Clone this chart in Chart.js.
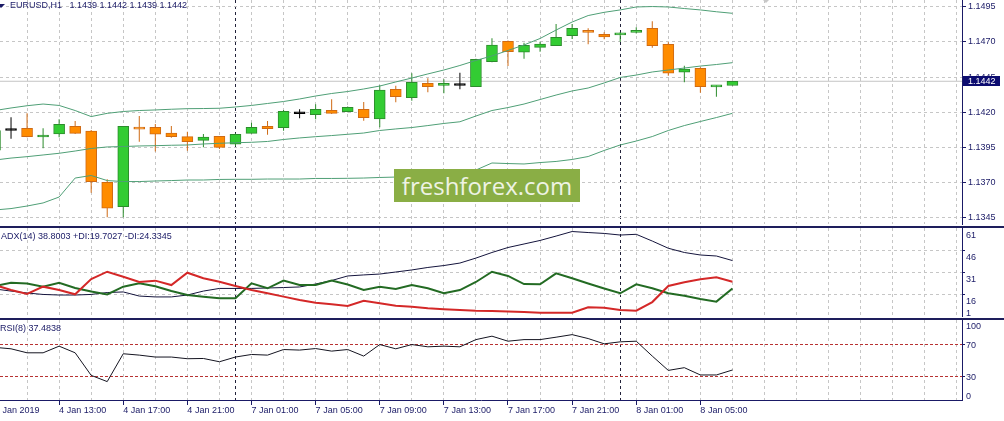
<!DOCTYPE html>
<html><head><meta charset="utf-8">
<script src="https://cdn.jsdelivr.net/npm/chart.js@4.4.1/dist/chart.umd.min.js"></script>
<style>
html,body{margin:0;padding:0;background:#fff;}
body{width:1004px;height:421px;overflow:hidden;position:relative;font-family:"Liberation Sans",Arial,sans-serif;}
.pane{position:absolute;left:0;width:1004px;}
canvas{display:block;}
.sep{position:absolute;left:0;width:1004px;height:2px;background:#1e1e5c;z-index:3;}
.lbl{position:absolute;font-size:9px;color:#1a1a66;white-space:pre;line-height:11px;z-index:4;}
#wm{position:absolute;left:394px;top:169px;width:186px;height:33px;background:#8aae45;color:#eef3e4;font-family:"Open Sans",sans-serif;font-size:24px;line-height:33px;text-align:center;z-index:4;}
</style></head><body>
<div class="pane" style="top:0;height:226px"><canvas id="c1" width="1004" height="226"></canvas></div>
<div class="pane" style="top:226px;height:92px"><canvas id="c2" width="1004" height="92"></canvas></div>
<div class="pane" style="top:318px;height:103px"><canvas id="c3" width="1004" height="103"></canvas></div>
<div class="sep" style="top:226px"></div>
<div class="sep" style="top:318px"></div>
<div style="position:absolute;left:-3px;top:4px;width:0;height:0;border-left:4px solid transparent;border-right:4px solid transparent;border-top:4px solid #1a1a66;z-index:4"></div>
<div style="position:absolute;left:763px;top:0px;width:0;height:0;border-left:3px solid transparent;border-right:3px solid transparent;border-top:3px solid #c8c8c8;z-index:4"></div>
<div class="lbl" id="t1" style="left:10px;top:0px"></div>
<div class="lbl" id="t2" style="left:1px;top:231px"></div>
<div class="lbl" id="t3" style="left:0px;top:323px"></div>
<div id="wm">freshforex.com</div>
<script>
// ---------- data ----------
const symbol = 'EURUSD,H1';
const times = [
 '2019-01-04 09:00','2019-01-04 10:00','2019-01-04 11:00','2019-01-04 12:00','2019-01-04 13:00','2019-01-04 14:00','2019-01-04 15:00','2019-01-04 16:00','2019-01-04 17:00','2019-01-04 18:00',
 '2019-01-04 19:00','2019-01-04 20:00','2019-01-04 21:00','2019-01-04 22:00','2019-01-04 23:00','2019-01-07 00:00','2019-01-07 01:00','2019-01-07 02:00','2019-01-07 03:00','2019-01-07 04:00',
 '2019-01-07 05:00','2019-01-07 06:00','2019-01-07 07:00','2019-01-07 08:00','2019-01-07 09:00','2019-01-07 10:00','2019-01-07 11:00','2019-01-07 12:00','2019-01-07 13:00','2019-01-07 14:00',
 '2019-01-07 15:00','2019-01-07 16:00','2019-01-07 17:00','2019-01-07 18:00','2019-01-07 19:00','2019-01-07 20:00','2019-01-07 21:00','2019-01-07 22:00','2019-01-07 23:00','2019-01-08 00:00',
 '2019-01-08 01:00','2019-01-08 02:00','2019-01-08 03:00','2019-01-08 04:00','2019-01-08 05:00','2019-01-08 06:00','2019-01-08 07:00'];
const xTickLabels = ['4 Jan 2019','4 Jan 13:00','4 Jan 17:00','4 Jan 21:00','7 Jan 01:00','7 Jan 05:00','7 Jan 09:00','7 Jan 13:00','7 Jan 17:00','7 Jan 21:00','8 Jan 01:00','8 Jan 05:00'];
const priceTicks = [1.1345,1.1370,1.1395,1.1420,1.1445,1.1470,1.1495];
const adxTicks = [61,46,31,16,1];
const rsiTicks = [100,70,30,0];
const rsiLevels = [70,30];

const open = [1.1393,1.1407,1.14086,1.14024,1.14045,1.1410,1.14066,1.13702,1.13528,1.1409,
 1.14093,1.14052,1.14026,1.1400,1.14029,1.13972,1.1405,1.1410,1.1409,1.14189,
 1.14182,1.14214,1.14204,1.14221,1.14152,1.14363,1.14303,1.14405,1.14391,1.1439,
 1.14381,1.14559,1.14704,1.14626,1.14661,1.14673,1.14744,1.14782,1.14754,1.1475,
 1.14768,1.14796,1.14683,1.14484,1.14512,1.1438,1.1439];
const high = [1.1409,1.14164,1.14192,1.14086,1.1415,1.14137,1.14073,1.13723,1.14102,1.14173,
 1.14116,1.14102,1.14061,1.14045,1.1403,1.1405,1.14125,1.14137,1.14215,1.14221,
 1.14256,1.14292,1.1424,1.14273,1.14391,1.14388,1.14477,1.14441,1.14434,1.14481,
 1.1458,1.14725,1.1471,1.14694,1.14701,1.14827,1.14827,1.14796,1.14768,1.14768,
 1.14804,1.14846,1.14697,1.14531,1.1452,1.14391,1.1442];
const low = [1.1391,1.14012,1.14022,1.13943,1.14022,1.14045,1.13628,1.13453,1.13453,1.1399,
 1.1392,1.14019,1.13926,1.1395,1.13938,1.1396,1.14048,1.1404,1.14069,1.14157,
 1.1415,1.14187,1.1420,1.1414,1.14093,1.1427,1.14282,1.14341,1.14334,1.14363,
 1.1438,1.14555,1.14528,1.1458,1.1463,1.1467,1.1472,1.14683,1.14718,1.14701,
 1.1476,1.14659,1.1446,1.14413,1.14339,1.1431,1.1439];
const close = [1.1407,1.1407,1.14026,1.14031,1.14114,1.1405,1.13706,1.13517,1.1410,1.1408,
 1.14043,1.14026,1.1399,1.14024,1.1395,1.14043,1.14093,1.14083,1.14206,1.14189,
 1.14221,1.14192,1.14235,1.14161,1.14358,1.1431,1.14413,1.14381,1.14405,1.1439,
 1.14576,1.14678,1.1463,1.14676,1.14685,1.14732,1.14796,1.14768,1.14735,1.14752,
 1.14782,1.14673,1.14477,1.14507,1.14381,1.14385,1.1442];
const bbUpper = [1.14212,1.1423,1.14246,1.14258,1.14248,1.14212,1.14169,1.14192,1.14205,1.14212,
 1.14216,1.14221,1.14225,1.14226,1.14228,1.14237,1.14248,1.14262,1.14276,1.14294,
 1.14315,1.14333,1.14347,1.14365,1.14386,1.14415,1.14443,1.14472,1.145,1.14532,
 1.14568,1.146,1.14639,1.14678,1.14724,1.14784,1.14841,1.14887,1.1491,1.14927,
 1.14948,1.14951,1.14948,1.14937,1.14927,1.14914,1.14903];
const bbMiddle = [1.1386,1.13874,1.13884,1.13896,1.13908,1.13924,1.13942,1.13953,1.13956,1.1396,
 1.13962,1.13965,1.13967,1.13974,1.13979,1.13983,1.13986,1.13992,1.14006,1.14017,
 1.14026,1.14034,1.14043,1.14052,1.1407,1.14081,1.14091,1.14105,1.1412,1.14132,
 1.14173,1.14212,1.14233,1.14258,1.1429,1.14322,1.14351,1.14372,1.14408,1.14447,
 1.14464,1.14486,1.145,1.14514,1.14528,1.14539,1.14552];
const bbLower = [1.13505,1.13515,1.13533,1.13555,1.13597,1.13732,1.1375,1.13714,1.13707,1.13707,
 1.13711,1.13714,1.13718,1.13718,1.13722,1.13723,1.13723,1.13725,1.13725,1.13725,
 1.13729,1.13729,1.1373,1.13732,1.13736,1.13739,1.13743,1.13746,1.1375,1.13754,
 1.13789,1.13839,1.13835,1.13832,1.13842,1.1385,1.13864,1.13885,1.13928,1.13967,
 1.13995,1.14027,1.1407,1.14105,1.14134,1.14162,1.14192];
const adx = [19.4,18.0,16.7,15.7,15.3,15.3,15.7,17.0,17.4,14.6,
 14.0,14.0,15.3,18.0,19.8,19.8,19.8,20.1,20.4,20.8,
 22.8,25.2,28.3,29.0,29.6,31.0,32.4,34.1,35.4,37.1,
 40.5,44.3,47.7,50.1,52.5,55.5,58.6,57.9,57.3,56.2,
 56.7,52.1,47.2,44.3,42.6,41.9,38.8003];
const plusDI = [21.5,23.7,23.2,21.0,23.7,20.1,17.7,15.7,21.0,23.3,
 21.3,18.0,15.3,14.2,13.1,13.1,23.3,19.9,25.1,22.1,
 22.1,25.2,22.5,18.7,21.0,19.4,22.1,19.9,16.5,18.7,
 24.2,31.2,28.3,22.8,22.6,30.1,26.7,23.2,19.8,16.5,
 22.6,19.9,16.5,14.8,12.6,10.8,19.7027];
const minusDI = [22.1,18.7,16.0,21.0,18.7,15.8,26.2,31.2,27.8,24.2,
 25.1,22.1,30.5,26.7,24.4,21.5,18.7,16.5,14.2,11.9,
 10.1,9.0,7.8,11.4,9.7,8.0,7.3,6.3,5.6,5.1,
 4.6,4.4,4.1,3.7,3.3,3.3,3.3,6.9,6.7,5.1,
 4.6,10.5,21.5,24.0,26.0,27.4,24.3345];
const rsi = [65.8,64.0,59.0,59.0,67.3,59.0,30.8,23.0,57.8,56.1,
 53.7,53.7,51.6,51.9,47.8,53.7,56.9,56.1,63.1,62.4,
 64.3,61.1,63.1,54.9,69.3,64.0,69.3,66.5,67.3,66.5,
 75.5,79.8,73.5,75.5,75.5,78.5,81.7,76.8,70.2,72.7,
 73.5,54.9,37.0,40.4,31.3,31.3,37.4838];

// ---------- layout / style constants ----------
const X_MIN = 0.312, X_MAX = 60.32;       // visible bar slots
const GRID_STEP = 2, LABEL_STEP = 4;
const Y_MIN = 1.134053, Y_MAX = 1.149976;
const NAVY = '#1a1a66', GRID = '#c6c6c6', SEP = '#22223a', CLEAR = 'rgba(0,0,0,0)';
const FONT = {family: "'Liberation Sans', Arial, sans-serif", size: 9};
const UP_FILL = '#33cc33', UP_EDGE = '#2c8c2c', DN_FILL = '#ff8c00', DN_EDGE = '#cf6a14', DOJI = '#000000';
const BAND = '#4f9f76';

Chart.defaults.font.family = FONT.family;
Chart.defaults.font.size = 9;

const n = times.length;
const last = n - 1;
const dayStarts = times.map((t, i) => (i > 0 && t.endsWith(' 00:00')) ? i : -1).filter(i => i >= 0);

function series(arr){ return arr.map((v, i) => ({x: i, y: v})); }
function labelFor(v){
  return (v % LABEL_STEP === 0 && v / LABEL_STEP < xTickLabels.length) ? xTickLabels[v / LABEL_STEP] : '';
}
function buildXTicks(s){
  const t = [];
  for (let v = 0; v <= X_MAX; v += GRID_STEP) t.push(v);
  dayStarts.forEach(v => { if (!t.includes(v)) t.push(v); });
  t.sort((a, b) => a - b);
  s.ticks = t.map(v => ({value: v}));
}
function xScale(showLabels, h){
  return {
    type: 'linear', min: X_MIN, max: X_MAX, offset: false,
    afterBuildTicks: buildXTicks,
    afterFit: s => { s.height = h; s.paddingLeft = 0; s.paddingRight = 0; },
    ticks: {display: showLabels, autoSkip: false, maxRotation: 0, minRotation: 0, align: 'start',
            padding: 0, color: NAVY, font: FONT, callback: v => labelFor(v)},
    grid: {offset: false, lineWidth: 1, drawTicks: showLabels, tickLength: 5, tickBorderDash: [],
           color: c => (c.tick && dayStarts.includes(c.tick.value)) ? SEP : GRID,
           tickColor: c => (c.tick && labelFor(c.tick.value)) ? NAVY : CLEAR},
    border: {display: showLabels, color: NAVY, width: 1, dash: [3, 3]}
  };
}
function yScale(o){
  return {
    position: 'right', min: o.min, max: o.max,
    afterBuildTicks: s => { s.ticks = o.ticks.map(v => ({value: v})); },
    afterFit: s => { s.width = 42; s.paddingTop = 0; s.paddingBottom = 0; },
    ticks: {autoSkip: false, color: NAVY, font: FONT, padding: o.pad, labelOffset: o.labelOffset || 0, callback: o.fmt},
    grid: {lineWidth: 1, drawTicks: true, tickLength: o.tl, tickBorderDash: [],
           color: c => c.tick ? o.gridColor(c.tick.value) : CLEAR,
           tickColor: c => c.tick ? o.tickColor(c.tick.value) : CLEAR},
    border: {display: true, color: NAVY, width: 1, dash: o.dash}
  };
}
const baseOpts = (padTop) => ({
  responsive: false, animation: false, events: [],
  layout: {padding: {top: padTop, left: 0, right: 0, bottom: 0}, autoPadding: false},
  plugins: {legend: {display: false}, tooltip: {enabled: false}},
  elements: {point: {radius: 0, hitRadius: 0}, line: {tension: 0}}
});

function kind(i){ return close[i] > open[i] ? 1 : (close[i] < open[i] ? -1 : 0); }
function fillOf(i){ const k = kind(i); return k > 0 ? UP_FILL : (k < 0 ? DN_FILL : DOJI); }
function edgeOf(i){ const k = kind(i); return k > 0 ? UP_EDGE : (k < 0 ? DN_EDGE : DOJI); }

// last price marker (box on the price axis)
const lastPricePlugin = {
  id: 'lastPrice',
  afterDraw(chart){
    const ca = chart.chartArea, ctx = chart.ctx;
    const y = Math.round(chart.scales.y.getPixelForValue(close[last]));
    ctx.save();
    ctx.fillStyle = '#0c0c70';
    ctx.fillRect(ca.right + 1, y - 5, 37, 10);
    ctx.fillStyle = '#ffffff';
    ctx.font = "9px 'Liberation Sans', Arial, sans-serif";
    ctx.textBaseline = 'middle';
    ctx.fillText(close[last].toFixed(4), ca.right + 6, y + 0.5);
    ctx.restore();
  }
};

// ---------- main price panel ----------
const o1 = baseOpts(0);
o1.scales = {
  x: xScale(false, 2),
  y: yScale({min: Y_MIN, max: Y_MAX, ticks: priceTicks, pad: 2, tl: 4, dash: [3, 3],
             fmt: v => v.toFixed(4), gridColor: () => GRID, tickColor: () => NAVY})
};
new Chart(document.getElementById('c1'), {
  type: 'bar',
  data: {datasets: [
    {type: 'line', label: 'BB upper', data: series(bbUpper), borderColor: BAND, borderWidth: 1, pointRadius: 0, order: 0},
    {type: 'line', label: 'BB middle', data: series(bbMiddle), borderColor: BAND, borderWidth: 1, pointRadius: 0, order: 0},
    {type: 'line', label: 'BB lower', data: series(bbLower), borderColor: BAND, borderWidth: 1, pointRadius: 0, order: 0},
    {label: 'body', data: open.map((o, i) => ({x: i, y: [o, close[i]]})),
     backgroundColor: c => fillOf(c.dataIndex), borderColor: c => edgeOf(c.dataIndex),
     borderWidth: 1, borderSkipped: false, barThickness: 11, minBarLength: 2, grouped: false, order: 1},
    {label: 'wick', data: low.map((l, i) => ({x: i, y: [l, high[i]]})),
     backgroundColor: c => edgeOf(c.dataIndex), borderWidth: 0, barThickness: 1, inflateAmount: 0, grouped: false, order: 2},
    {type: 'line', label: 'bid', data: [{x: X_MIN, y: close[last]}, {x: X_MAX, y: close[last]}],
     borderColor: '#c4c4c4', borderWidth: 1, pointRadius: 0, order: 3}
  ]},
  options: o1,
  plugins: [lastPricePlugin]
});

// ---------- ADX panel ----------
const o2 = baseOpts(2);
const adxEdge = v => (v === adxTicks[0] || v === adxTicks[adxTicks.length - 1]);
o2.scales = {
  x: xScale(false, 2),
  y: yScale({min: adxTicks[adxTicks.length - 1], max: adxTicks[0], ticks: adxTicks, pad: 1, tl: 3, labelOffset: 8, dash: [3, 3],
             fmt: v => v === adxTicks[adxTicks.length - 1] ? [String(v), '', ''] : String(v),
             gridColor: v => adxEdge(v) ? CLEAR : GRID, tickColor: v => adxEdge(v) ? CLEAR : NAVY})
};
new Chart(document.getElementById('c2'), {
  type: 'line',
  data: {datasets: [
    {label: '-DI', data: series(minusDI), borderColor: '#d42828', borderWidth: 2, order: 0},
    {label: '+DI', data: series(plusDI), borderColor: '#236b23', borderWidth: 2, order: 1},
    {label: 'ADX', data: series(adx), borderColor: '#14143c', borderWidth: 1, order: 2}
  ]},
  options: o2
});

// ---------- RSI panel ----------
const o3 = baseOpts(2);
o3.scales = {
  x: xScale(true, 21),
  y: yScale({min: rsiTicks[rsiTicks.length - 1], max: rsiTicks[0], ticks: rsiTicks, pad: 1, tl: 3, labelOffset: 1.5, dash: [3, 2],
             fmt: v => v === rsiTicks[0] ? ['', String(v)] : (v === rsiTicks[rsiTicks.length - 1] ? [String(v), ''] : String(v)),
             gridColor: v => rsiLevels.includes(v) ? '#b83232' : CLEAR,
             tickColor: v => rsiLevels.includes(v) ? NAVY : CLEAR})
};
new Chart(document.getElementById('c3'), {
  type: 'line',
  data: {datasets: [
    {label: 'RSI', data: series(rsi), borderColor: '#141420', borderWidth: 1}
  ]},
  options: o3
});

// ---------- panel captions ----------
document.getElementById('t1').textContent = symbol + '   ' + [open, high, low, close].map(a => a[last].toFixed(4)).join(' ');
document.getElementById('t2').textContent = 'ADX(14) ' + adx[last].toFixed(4) + ' +DI:' + plusDI[last].toFixed(4) + ' -DI:' + minusDI[last].toFixed(4);
document.getElementById('t3').textContent = 'RSI(8) ' + rsi[last].toFixed(4);
</script>
</body></html>
